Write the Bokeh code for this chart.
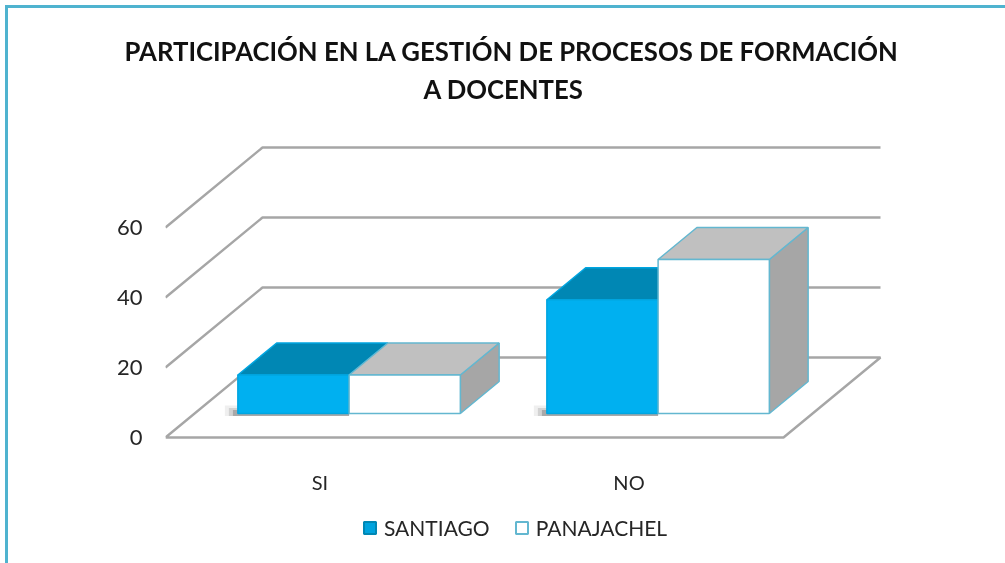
from bokeh.embed import file_html
from bokeh.resources import INLINE
from bokeh.plotting import figure
from bokeh.models import (FixedTicker, Legend, LegendItem, Range1d, Title)

TITLE_LINES = ["PARTICIPACIÓN EN LA GESTIÓN DE PROCESOS DE FORMACIÓN", "A DOCENTES"]
categories = ["SI", "NO"]
series_names = ["SANTIAGO", "PANAJACHEL"]
santiago = [11, 32.5]
panajachel = [11, 44]
y_ticks = [0, 20, 40, 60]

FONT = "Lato"
TEXT = "#262626"
ORG = 8                       # canvas origin in the page
W, H = 1005 - ORG, 563 - ORG
L, R, T, B = 165, 885, 109, 550   # frame in page pixels
XAXIS_Y = 445                 # page y of the category axis
PX_X = 309.0   # px per category
PX_Y = 3.5     # px per value unit
DX = 97 / PX_X  # oblique depth in data units
DY = 80 / PX_Y
BAR_W = 0.36
BAR_OFF = 0.14
D0, D1 = 0.3, 0.7


def prj(x, y, d):
    return x + d * DX, y + d * DY


p = figure(width=W, height=H, frame_width=R - L, frame_height=B - T, output_backend="svg", toolbar_location=None,
           x_range=Range1d(0, (R - L) / PX_X), y_range=Range1d((437 - B) / PX_Y, (437 - T) / PX_Y),
           min_border_left=L - ORG, min_border_right=W - (R - ORG), min_border_top=T - ORG, min_border_bottom=H - (B - ORG),
           outline_line_color=None, background_fill_color="white", border_fill_color="white",
           title=None,
           styles={"position": "fixed", "left": "5px", "top": "5px", "box-sizing": "content-box",
                   "border-left": "3px solid #4fb3cf", "border-top": "3px solid #4fb3cf"})
p.grid.visible = False

p.add_layout(Title(text=TITLE_LINES[1], align="left", offset=258, text_font=FONT, text_font_style="bold",
                   text_font_size="25.7px", text_color="#111111", standoff=12), "above")
p.add_layout(Title(text=TITLE_LINES[0], align="left", offset=-41, text_font=FONT, text_font_style="bold",
                   text_font_size="25.7px", text_color="#111111", standoff=0), "above")

# axes
p.yaxis.ticker = FixedTicker(ticks=y_ticks)
p.yaxis.axis_line_color = None
p.yaxis.major_tick_line_color = None
p.yaxis.minor_tick_line_color = None
p.yaxis.major_label_text_font = FONT
p.yaxis.major_label_text_font_size = "22px"
p.yaxis.major_label_text_color = TEXT
p.yaxis.major_label_standoff = 17

p.xaxis.ticker = FixedTicker(ticks=[i + 0.5 for i in range(len(categories))])
p.xaxis.major_label_overrides = {i + 0.5: c for i, c in enumerate(categories)}
p.xaxis.fixed_location = (437 - XAXIS_Y) / PX_Y
p.xaxis.axis_line_color = None
p.xaxis.major_tick_line_color = None
p.xaxis.minor_tick_line_color = None
p.xaxis.major_label_text_font = FONT
p.xaxis.major_label_text_font_size = "20px"
p.xaxis.major_label_text_color = TEXT
p.xaxis.major_label_standoff = 18

# walls and floor
xmax = float(len(categories))
GRID = "#a6a6a6"
for t in y_ticks:
    xs = [0, DX, DX + xmax]
    ys = [t, t + DY, t + DY]
    if t == 0:
        xs = [0, DX, DX + xmax, xmax, 0]
        ys = [0, DY, DY, 0, 0]
    p.line(xs, ys, line_color=GRID, line_width=2.4)


def quad(src_x, src_y, fill, line):
    return p.patch(src_x, src_y, fill_color=fill, line_color=line, line_width=1.5)


for i in range(len(categories)):
    for s, (vals, front, top, side, edge) in enumerate([
        (santiago, "#00b0f0", "#0087b4", "#0087b4", "#00a5e0"),
        (panajachel, "#ffffff", "#c0c0c0", "#a6a6a6", "#63b7d0"),
    ]):
        x0 = i + BAR_OFF + s * BAR_W
        x1 = x0 + BAR_W
        v = vals[i]
        if s == 0:
            # soft shadow to the left of and under the bar
            for a, grow, rise in [(0.08, 0.042, 2.3), (0.15, 0.029, 1.6), (0.25, 0.016, 1.0)]:
                sx0, sy0 = prj(x0 - grow, 0, D0)
                sx1, sy1 = prj(x1, 0, D0)
                p.quad(left=[sx0], right=[sx1], bottom=[sy0 - 0.7], top=[sy0 + rise], fill_color="#303030",
                       fill_alpha=a, line_color=None)
        if s == 1:
            a = prj(x1, 0, D0); b = prj(x1, 0, D1); c = prj(x1, v, D1); d = prj(x1, v, D0)
            quad([a[0], b[0], c[0], d[0]], [a[1], b[1], c[1], d[1]], side, edge)
        a = prj(x0, v, D0); b = prj(x0, v, D1); c = prj(x1, v, D1); d = prj(x1, v, D0)
        quad([a[0], b[0], c[0], d[0]], [a[1], b[1], c[1], d[1]], top, edge)
        a = prj(x0, 0, D0); b = prj(x0, v, D0); c = prj(x1, v, D0); d = prj(x1, 0, D0)
        quad([a[0], b[0], c[0], d[0]], [a[1], b[1], c[1], d[1]], front, edge)

# legend
lg_a = p.patch([0, 0], [0, 0], fill_color="#00a3de", line_color="#0087b4", line_width=2)
lg_b = p.patch([0, 0], [0, 0], fill_color="#ffffff", line_color="#63b7d0", line_width=2)
legend = Legend(items=[LegendItem(label=series_names[0], renderers=[lg_a]),
                       LegendItem(label=series_names[1], renderers=[lg_b])],
                orientation="horizontal", location=(197, 10), border_line_color=None,
                background_fill_alpha=0, label_text_font=FONT, label_text_font_size="21px",
                label_text_color=TEXT, glyph_width=15, glyph_height=15, spacing=24,
                label_standoff=7, margin=0, padding=0)
p.add_layout(legend)

open("out.html", "w").write(file_html(p, INLINE))
